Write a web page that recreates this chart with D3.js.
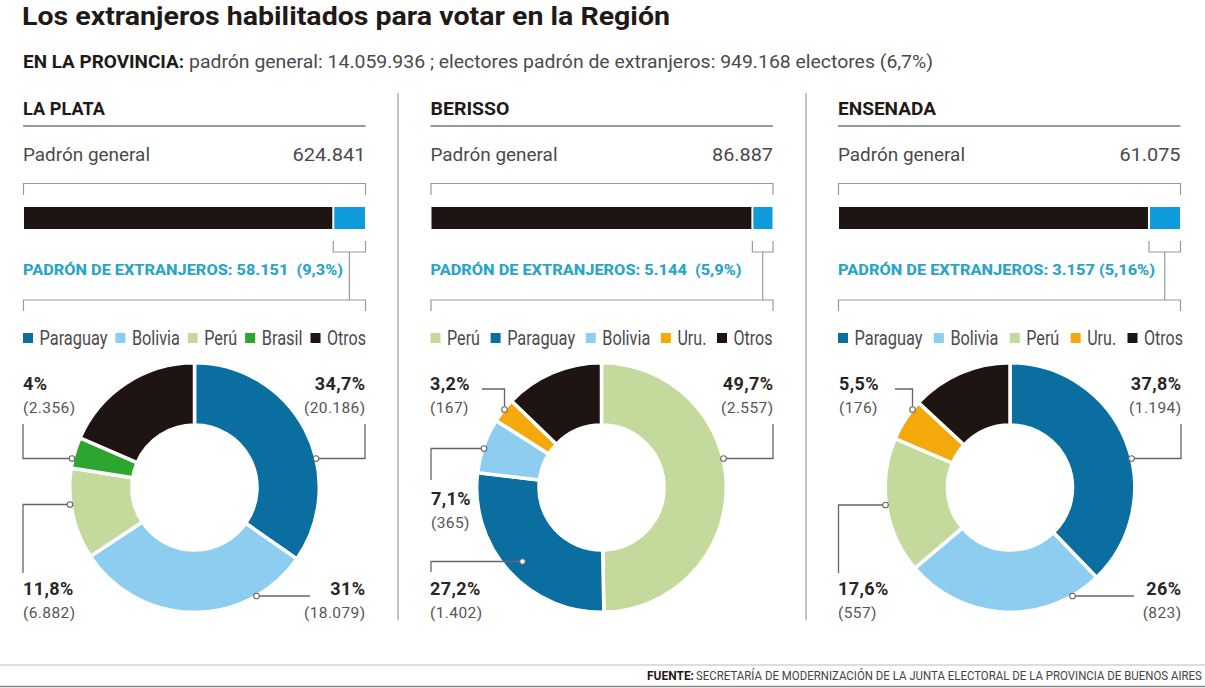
<!DOCTYPE html>
<html>
<head>
<meta charset="utf-8">
<script src="https://cdn.jsdelivr.net/npm/d3@7"></script>
<style>
  html, body { margin: 0; background: #fff; overflow: hidden; }
  text { font-family: Roboto, sans-serif; white-space: pre; }
</style>
</head>
<body>
<div id="area"></div>
<script>
// data
var title = "Los extranjeros habilitados para votar en la Región";
var provinceLead = "EN LA PROVINCIA:";
var provinceText = "padrón general: 14.059.936 ; electores padrón de extranjeros: 949.168 electores (6,7%)";
var sourceLead = "FUENTE:";
var sourceText = "SECRETARÍA DE MODERNIZACIÓN DE LA JUNTA ELECTORAL DE LA PROVINCIA DE BUENOS AIRES";

var cities = ["LA PLATA", "BERISSO", "ENSENADA"];
var padronGeneral = [624841, 86887, 61075];
var padronExtranjeros = [58151, 5144, 3157];
var extranjerosLabel = ["9,3%", "5,9%", "5,16%"];
var extranjerosGap = ["  ", "  ", " "];
// share of the bar painted blue; Ensenada is drawn wider than its 5,16% label in the original
var barShare = [9.3, 5.9, 9.1];

var laPlataCategories = ["Paraguay", "Bolivia", "Perú", "Brasil", "Otros"];
var laPlataPercent = [34.7, 31, 11.8, 4, 18.5];
var laPlataVoters = [20186, 18079, 6882, 2356];

var berissoCategories = ["Perú", "Paraguay", "Bolivia", "Uru.", "Otros"];
var berissoPercent = [49.7, 27.2, 7.1, 3.2, 12.8];
var berissoVoters = [2557, 1402, 365, 167];

var ensenadaCategories = ["Paraguay", "Bolivia", "Perú", "Uru.", "Otros"];
var ensenadaPercent = [37.8, 26, 17.6, 5.5, 13.1];
var ensenadaVoters = [1194, 823, 557, 176];

var allCategories = [laPlataCategories, berissoCategories, ensenadaCategories];
var allPercent = [laPlataPercent, berissoPercent, ensenadaPercent];
var allVoters = [laPlataVoters, berissoVoters, ensenadaVoters];

var colors = d3.scaleOrdinal()
    .domain(["Paraguay", "Bolivia", "Perú", "Brasil", "Uru.", "Otros"])
    .range(["#0a6ea1", "#8dcdf0", "#c4da9c", "#2ca62f", "#f3a90c", "#1e1512"]);

// layout
var width = 1205, height = 688;
var panelLeft = [23, 430.5, 838];
var panelWidth = 342.5;
var donutX = [194.5, 601.5, 1010];
var donutY = 487.5;
var cityWidth = [82, 79, 98];
var labelWidth = [320, 311, 317];
var numberWidth = [73, 61, 61];
var legendText = {"Paraguay": 68, "Bolivia": 48, "Perú": 33, "Brasil": 41, "Uru.": 29, "Otros": 39};
var legendSpan = [343, 342, 345];

// leader lines, one list per panel, same order as the voters arrays
var leaders = [
  [
    {pts: [[316, 458.5], [365, 458.5], [365, 424]], end: true, x: 365.5, y: 390},
    {pts: [[256.5, 596], [310, 596]], end: true, x: 365.5, y: 595},
    {pts: [[70, 504.5], [23, 504.5], [23, 573]], end: false, x: 23, y: 595},
    {pts: [[72, 458.5], [23, 458.5], [23, 424]], end: false, x: 23, y: 390}
  ],
  [
    {pts: [[723.5, 458.5], [773, 458.5], [773, 424]], end: true, x: 773.5, y: 390},
    {pts: [[522.5, 561.5], [431, 561.5], [431, 572]], end: false, x: 430, y: 595},
    {pts: [[484, 448.5], [431, 448.5], [431, 480]], end: false, x: 431, y: 505},
    {pts: [[504.5, 409.5], [504.5, 389], [482, 389]], end: false, x: 430, y: 390}
  ],
  [
    {pts: [[1131.5, 458.5], [1181, 458.5], [1181, 424]], end: true, x: 1181.5, y: 390},
    {pts: [[1072.5, 596], [1134, 596]], end: true, x: 1181.5, y: 595},
    {pts: [[885.5, 505], [838.5, 505], [838.5, 573]], end: false, x: 838, y: 595},
    {pts: [[912.5, 409.5], [912.5, 389], [895, 389]], end: false, x: 839, y: 390}
  ]
];

var es = d3.formatLocale({decimal: ",", thousands: ".", grouping: [3], currency: ["$", ""]});
var fmt = es.format(",d");
function pct(v) { return String(v).replace(".", ",") + "%"; }

var svg = d3.select("#area").append("svg")
    .attr("width", width)
    .attr("height", height)
    .style("display", "block");

// squeezes a text to the width it has in the picture
function fit(sel, w) {
  return sel.attr("textLength", w).attr("lengthAdjust", "spacingAndGlyphs");
}

function addText(x, y, str, size, weight, color) {
  return svg.append("text")
      .attr("x", x)
      .attr("y", y)
      .attr("font-size", size)
      .attr("font-weight", weight)
      .attr("fill", color)
      .text(str);
}

function addLine(pts, color, w) {
  svg.append("path")
      .attr("d", d3.line()(pts))
      .attr("fill", "none")
      .attr("stroke", color)
      .attr("stroke-width", w);
}

fit(addText(22, 25, title, 26.5, 700, "#1f1a17"), 648);
fit(addText(23, 68, provinceLead, 18.5, 700, "#1f1a17"), 161);
fit(addText(189, 68, provinceText, 18.5, 400, "#4a4a4a"), 744);

// column dividers
[398, 806].forEach(function(x) {
  addLine([[x, 93], [x, 620]], "#9a9a9a", 1.2);
});

cities.forEach(function(city, i) {
  var left = panelLeft[i], right = left + panelWidth;

  fit(addText(left, 115, city, 18, 700, "#1f1a17"), cityWidth[i]);
  addLine([[left, 126], [right, 126]], "#777", 1.5);

  fit(addText(left, 161, "Padrón general", 19, 400, "#4a4a4a"), 127);
  fit(addText(right, 161, fmt(padronGeneral[i]), 19, 400, "#4a4a4a").attr("text-anchor", "end"), numberWidth[i]);

  // top bracket
  addLine([[left + 0.5, 195], [left + 0.5, 183.5], [right, 183.5], [right, 195]], "#999", 1.2);

  // bar
  var x = d3.scaleLinear().domain([0, 100]).range([left + 1, right - 0.5]);
  var split = x(100 - barShare[i]);
  svg.append("rect")
      .attr("x", x(0))
      .attr("y", 207)
      .attr("width", split - 1 - x(0))
      .attr("height", 22)
      .attr("fill", "#1e1512");
  svg.append("rect")
      .attr("x", split + 1)
      .attr("y", 207)
      .attr("width", x(100) - split - 1)
      .attr("height", 22)
      .attr("fill", "#0f9bdc");

  // small bracket under the blue part and stem down to the lower bracket
  var mid = (split + right) / 2;
  addLine([[split, 241], [split, 252], [right, 252], [right, 241]], "#999", 1.2);
  addLine([[mid, 252], [mid, 300]], "#999", 1.2);
  addLine([[left + 0.5, 311], [left + 0.5, 300], [right, 300], [right, 311]], "#999", 1.2);

  var label = "PADRÓN DE EXTRANJEROS: " + fmt(padronExtranjeros[i]) + extranjerosGap[i] + "(" + extranjerosLabel[i] + ")";
  fit(addText(left, 275, label, 14.5, 800, "#2aa5c9"), labelWidth[i]);

  // legend, laid out from the text widths with equal gaps
  var names = allCategories[i];
  var used = d3.sum(names, function(n) { return 16.5 + legendText[n]; });
  var gap = (legendSpan[i] - used) / (names.length - 1);
  var cursor = left;
  names.forEach(function(n) {
    svg.append("rect")
        .attr("x", cursor)
        .attr("y", 333)
        .attr("width", 10)
        .attr("height", 10)
        .attr("fill", colors(n));
    fit(addText(cursor + 16.5, 344.5, n, 20, 400, "#4a4a4a"), legendText[n]);
    cursor += 16.5 + legendText[n] + gap;
  });

  // donut
  var pie = d3.pie().sort(null).value(function(d) { return d.value; });
  var arc = d3.arc().innerRadius(62.5).outerRadius(124.8);
  var slices = names.map(function(n, k) { return {name: n, value: allPercent[i][k]}; });
  svg.append("g")
      .attr("transform", "translate(" + donutX[i] + "," + donutY + ")")
    .selectAll("path")
    .data(pie(slices))
    .enter()
    .append("path")
      .attr("d", arc)
      .attr("fill", function(d) { return colors(d.data.name); })
      .attr("stroke", "#fff")
      .attr("stroke-width", 3.5);

  // callouts
  leaders[i].forEach(function(l, k) {
    addLine(l.pts, "#666", 1.3);
    svg.append("circle")
        .attr("cx", l.pts[0][0])
        .attr("cy", l.pts[0][1])
        .attr("r", 2.8)
        .attr("fill", "#fff")
        .attr("stroke", "#666")
        .attr("stroke-width", 1.1);
    var anchor = l.end ? "end" : "start";
    addText(l.x, l.y, pct(allPercent[i][k]), 18, 700, "#2a2624")
        .attr("text-anchor", anchor)
        .attr("letter-spacing", 0.4);
    addText(l.x, l.y + 22.5, "(" + fmt(allVoters[i][k]) + ")", 15.5, 400, "#555")
        .attr("text-anchor", anchor)
        .attr("letter-spacing", 0.4);
  });
});

// footer
addLine([[0, 665], [width, 665]], "#bbb", 1.2);
addLine([[0, 686.5], [width, 686.5]], "#888", 1.5);
fit(addText(647, 680, sourceLead, 13, 700, "#1f1a17"), 47);

// long line squeezed with a transform so its box stays inside the page
var source = addText(0, 0, sourceText, 13, 400, "#444");
var sourceScale = 506 / source.node().getComputedTextLength();
source.attr("transform", "translate(696,680) scale(" + sourceScale + ",1)");
</script>
</body>
</html>
